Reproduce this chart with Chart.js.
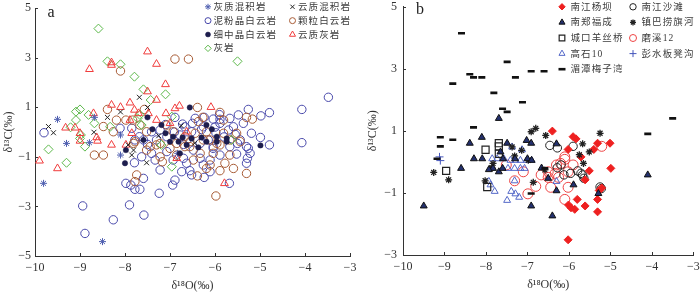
<!DOCTYPE html>
<html><head><meta charset="utf-8">
<script src="https://cdn.jsdelivr.net/npm/chart.js@4.4.1/dist/chart.umd.min.js"></script>
<style>
html,body{margin:0;padding:0;background:#fff;}
#wrap{position:relative;width:700px;height:294px;overflow:hidden;background:#fff;}
#ca{position:absolute;left:0;top:0;}
#cb{position:absolute;left:360px;top:0;}
</style></head><body>
<div id="wrap"><canvas id="ca" width="360" height="294"></canvas><canvas id="cb" width="340" height="294"></canvas></div>
<script>
// ---------- tick labels ----------
const xTicks = [-10, -9, -8, -7, -6, -5, -4, -3];
const yTicksA = [-5, -3, -1, 1, 3, 5];
const yTicksB = [-3, -1, 1, 3, 5];
const xTitle = 'δ¹⁸O(‰)';
const yTitle = 'δ¹³C(‰)';

// ---------- panel a series ([δ18O, δ13C]) ----------
const aLabels = ['灰质混积岩', '云质混积岩', '泥粉晶白云岩', '颗粒白云岩', '细中晶白云岩', '云质灰岩', '灰岩'];
const aCalcMixed = [[-9.50,0.51],[-9.30,-0.46],[-8.79,-0.43],[-8.68,0.59],[-8.10,-0.12],[-9.81,-2.07],[-8.50,-4.42],[-8.10,-0.93],[-6.83,-0.86]];
const aDoloMixed = [[-9.70,0.22],[-9.59,-0.03],[-8.69,-0.01],[-8.39,0.59],[-8.10,0.81],[-7.68,1.40],[-7.50,0.99],[-7.93,-0.52],[-7.85,-0.93],[-7.52,-1.24],[-7.81,-0.73],[-6.75,0.25],[-7.25,-0.15],[-6.45,-0.45]];
const aMicrite = [[-6.89,0.59],[-6.72,0.32],[-6.44,0.55],[-6.24,0.59],[-6.04,0.52],[-5.89,0.51],[-5.67,0.55],[-5.48,0.69],[-5.26,0.91],[-4.98,0.65],[-4.79,0.78],[-4.07,0.91],[-3.48,1.40],[-4.99,-0.22],[-4.79,-0.52],[-4.07,-0.43],[-9.80,-0.03],[-7.41,0.01],[-7.68,-0.19],[-7.78,-0.32],[-7.59,-0.32],[-7.30,-0.32],[-6.78,-0.12],[-6.63,-0.32],[-6.33,-0.46],[-6.15,-0.32],[-5.98,-0.03],[-5.59,0.21],[-5.37,0.35],[-5.70,0.08],[-5.89,0.35],[-6.67,0.21],[-6.52,0.01],[-5.44,-0.32],[-5.30,-0.59],[-8.11,0.15],[-7.85,0.15],[-7.22,0.08],[-7.07,-0.19],[-6.26,0.21],[-5.19,-0.05],[-6.04,-0.59],[-8.94,-2.98],[-8.89,-4.09],[-8.26,-3.54],[-7.90,-2.94],[-7.58,-3.35],[-7.98,-2.07],[-7.87,-2.14],[-7.78,-2.31],[-7.67,-2.31],[-7.59,-1.87],[-7.24,-2.47],[-6.94,-2.14],[-6.89,-1.94],[-5.68,-2.07],[-6.24,-1.83],[-6.52,-1.73],[-6.56,-1.56],[-6.74,-1.60],[-7.22,-1.53],[-7.79,-1.24],[-7.63,-1.00],[-7.33,-1.13],[-5.30,-1.26],[-5.28,-1.06],[-5.22,-0.86],[-5.26,-0.66],[-5.52,-0.89],[-6.93,-1.13],[-6.70,-1.06],[-6.33,-1.06],[-6.11,-1.13],[-5.89,-0.93],[-6.48,-0.73],[-6.04,-0.66],[-5.67,-0.59],[-7.41,-0.86],[-7.07,-0.79],[-6.63,-1.26],[-6.11,-1.60],[-5.50,-0.46],[-6.26,-1.33],[-6.50,0.35],[-6.30,0.10],[-6.00,0.20],[-5.80,-0.20],[-6.90,0.00],[-7.10,0.30],[-5.55,-0.10],[-6.70,-0.50],[-7.50,-0.50],[-5.90,0.70]];
const aGrain = [[-6.89,2.94],[-6.59,2.94],[-8.10,2.46],[-8.39,0.91],[-7.57,0.91],[-6.39,0.99],[-5.89,0.79],[-6.27,0.59],[-5.30,0.59],[-5.17,0.52],[-7.98,0.48],[-8.19,0.48],[-8.48,0.22],[-8.26,0.01],[-7.67,0.28],[-7.52,0.01],[-7.07,0.28],[-6.93,0.01],[-6.67,-0.19],[-6.44,-0.05],[-6.19,0.01],[-5.81,-0.05],[-5.67,-0.32],[-5.52,-0.05],[-6.37,0.42],[-5.81,0.48],[-7.44,-0.59],[-7.22,-0.46],[-6.85,-0.46],[-6.56,-0.59],[-6.26,-0.32],[-5.96,-0.46],[-7.81,-0.46],[-7.83,0.48],[-8.68,-0.93],[-8.48,-0.93],[-7.74,-1.73],[-7.78,-2.00],[-5.98,-2.58],[-5.30,-1.67],[-5.59,-1.47],[-5.89,-1.56],[-5.78,-1.26],[-6.39,-1.77],[-6.11,-1.33],[-6.19,-1.47],[-7.17,-1.20],[-7.52,-0.73],[-7.30,-0.52],[-7.00,-0.66],[-6.67,-0.59],[-6.33,-0.86],[-6.04,-0.86],[-5.67,-0.93],[-6.48,-1.13],[-5.89,-0.52],[-5.44,-0.39],[-6.85,-0.93],[-6.56,-0.39],[-6.11,-0.32],[-7.22,-1.00],[-7.78,-0.39]];
const aFineMed = [[-6.56,0.99],[-7.50,0.59],[-7.19,0.28],[-7.39,0.11],[-7.10,-0.05],[-6.19,0.28],[-4.99,-0.54],[-6.93,-0.19],[-6.72,-0.22],[-6.52,-0.26],[-6.30,-0.22],[-5.96,-0.19],[-5.74,-0.26],[-6.07,0.11],[-8.00,-1.26],[-7.98,-0.73],[-6.78,-0.86],[-7.00,-0.39],[-6.81,-0.39],[-6.19,-0.39],[-5.96,-0.39],[-5.74,-0.39],[-6.37,-0.62],[-7.59,-0.32],[-6.63,-0.52]];
const aDoloLime = [[-8.79,2.53],[-8.30,2.80],[-8.30,2.70],[-7.50,3.24],[-7.30,2.74],[-7.10,1.92],[-7.50,1.63],[-7.30,1.29],[-7.89,1.18],[-8.30,1.09],[-8.10,1.00],[-6.79,1.05],[-6.09,1.00],[-8.70,0.75],[-6.89,0.95],[-7.09,0.75],[-7.79,0.89],[-7.48,0.75],[-7.70,0.75],[-9.11,0.17],[-9.32,0.17],[-8.63,-0.22],[-8.30,-0.52],[-7.98,-0.52],[-9.00,-0.05],[-7.89,0.48],[-7.30,0.48],[-7.00,0.35],[-6.63,0.01],[-7.85,-0.05],[-9.90,-1.16],[-9.50,-1.47],[-5.79,-2.07],[-6.85,-1.06],[-9.00,-0.36],[-8.61,-0.36]];
const aLime = [[-8.59,4.17],[-8.39,2.85],[-8.10,2.73],[-7.79,2.23],[-7.59,1.72],[-7.10,1.52],[-7.43,1.29],[-5.50,2.85],[-9.00,0.91],[-9.09,0.82],[-9.09,0.48],[-9.21,0.19],[-8.98,-0.12],[-9.00,-0.26],[-8.89,-0.59],[-9.70,-0.70],[-9.30,-1.24],[-8.81,0.69],[-8.68,0.35],[-8.33,0.21],[-7.72,0.55],[-7.67,0.69],[-7.63,0.28],[-7.19,-0.52],[-6.96,-1.40],[-6.96,0.62],[-5.63,-0.32]];

// ---------- panel b series ----------
const bLabels = ['南江杨坝', '南江沙滩', '南郑福成', '镇巴捞旗河', '城口羊丝桥', '磨溪12', '高石10', '彭水板凳沟', '湄潭梅子湾'];
const bNanjiangYangba = [[-6.40,0.99],[-5.90,0.81],[-5.83,0.74],[-6.02,0.40],[-5.40,0.40],[-5.31,0.60],[-5.01,0.60],[-5.71,0.16],[-5.51,-0.29],[-5.61,-0.58],[-4.99,-0.21],[-5.21,-0.84],[-5.27,-0.92],[-5.80,-1.21],[-5.31,-1.21],[-6.01,-1.39],[-5.95,-1.48],[-5.86,-1.53],[-5.61,-1.42],[-5.31,-1.61],[-6.02,-2.51]];
const bNanjiangShatan = [[-6.46,0.53],[-6.28,0.45],[-5.90,0.50],[-6.28,-0.19],[-6.19,-0.10],[-6.12,-0.42],[-5.96,-0.37],[-5.79,-0.29],[-5.71,-0.37],[-5.67,-0.42],[-5.64,-0.53],[-5.25,-0.81],[-5.22,-0.86]];
const bNanzhengFucheng = [[-7.69,1.40],[-8.10,0.79],[-8.39,0.60],[-7.49,0.60],[-7.02,0.69],[-6.91,0.60],[-6.30,0.58],[-8.29,0.10],[-8.09,0.10],[-7.59,0.10],[-7.65,0.32],[-8.60,-0.21],[-7.83,-0.21],[-7.69,-0.32],[-7.93,-0.25],[-7.60,-0.21],[-9.50,-1.42],[-6.91,-1.42],[-6.40,-1.74],[-6.30,-0.93],[-6.50,-0.53],[-5.89,-0.74],[-5.29,-1.02],[-4.10,-0.42],[-7.00,0.10],[-6.90,0.05],[-7.30,0.10],[-6.66,-0.20]];
const bZhenbaLaoqihe = [[-6.91,0.97],[-6.80,1.08],[-6.56,0.85],[-5.25,0.92],[-5.67,0.58],[-7.37,0.48],[-7.14,0.37],[-7.31,0.19],[-6.98,0.05],[-7.83,-0.05],[-7.86,-0.19],[-5.75,0.23],[-5.51,0.32],[-5.65,-0.05],[-9.26,-0.34],[-8.90,-0.58],[-8.02,-0.61],[-6.86,-0.66],[-6.58,-0.26]];
const bChengkou = [[-7.69,0.60],[-7.69,0.50],[-8.01,0.39],[-7.69,0.26],[-8.96,-0.29],[-7.97,-0.81]];
const bMoxi12 = [[-5.21,0.50],[-6.10,0.16],[-6.10,0.08],[-6.20,-0.05],[-6.30,-0.10],[-5.90,-0.10],[-6.02,-0.32],[-6.33,-0.37],[-6.50,-0.32],[-6.67,-0.42],[-6.50,-0.50],[-6.25,-0.50],[-7.10,-0.32],[-6.80,-0.79],[-6.99,-1.03],[-7.31,-0.61],[-7.51,-0.10],[-6.44,-0.82],[-6.02,-0.82],[-6.10,-1.21]];
const bGaoshi10 = [[-7.85,0.10],[-7.73,0.10],[-7.57,0.10],[-7.41,0.05],[-7.29,0.05],[-7.17,0.05],[-7.02,0.05],[-6.90,0.05],[-7.47,-0.21],[-7.31,-0.21],[-7.17,-0.21],[-7.07,-0.21],[-7.31,-0.61],[-7.93,-0.63],[-7.89,-0.74],[-7.79,-0.95],[-7.39,-0.95],[-7.29,-1.03],[-7.20,-1.14],[-7.49,-1.24],[-6.30,-0.63],[-7.13,0.39],[-7.37,0.48]];
const bPengshui = [[-9.12,0.16],[-9.10,0.04]];
const bMeitan = [[-8.59,4.14],[-8.80,2.52],[-8.39,2.82],[-8.30,2.72],[-8.10,2.72],[-7.49,3.22],[-7.29,2.72],[-6.91,2.92],[-6.60,2.92],[-7.81,2.22],[-7.12,1.92],[-7.60,1.71],[-7.49,1.61],[-8.30,1.11],[-9.10,0.79],[-8.80,0.71],[-9.10,0.50],[-3.50,1.40],[-4.10,0.90],[-9.18,0.10],[-6.58,-0.21],[-6.91,-1.02]];

// ---------- helpers ----------
const SERIF = "'Liberation Serif','DejaVu Serif','Times New Roman',serif";
const fmt = v => (v < 0 ? '\u2212' + Math.abs(v) : String(v));

function ds(label, pts, style, color, extra) {
  return Object.assign({
    label: label,
    data: pts.map(p => ({ x: p[0], y: p[1] })),
    pointStyle: style,
    pointBackgroundColor: 'rgba(0,0,0,0)',
    pointBorderColor: color,
    pointBorderWidth: 1,
    pointRadius: 4,
    pointHoverRadius: 4,
    legendRadius: 3,
    showLine: false
  }, extra || {});
}

function scales(yMin, yMax, yTicks, yWidth, yTitlePad, yTickPad, xHeight) {
  return {
    x: {
      type: 'linear', min: -10, max: -3,
      afterBuildTicks: s => { s.ticks = xTicks.map(v => ({ value: v })); },
      afterFit: s => { s.height = xHeight; s.paddingLeft = 0; s.paddingRight = 0; },
      grid: { display: false, drawTicks: false },
      border: { display: true, color: '#333', width: 1 },
      ticks: { padding: 5, color: '#333', font: { family: SERIF, size: 12 }, callback: v => fmt(v), maxRotation: 0, autoSkip: false },
      title: { display: true, text: xTitle, color: '#333', font: { family: SERIF, size: 12 }, padding: { top: 0, bottom: 0.5 } }
    },
    y: {
      type: 'linear', min: yMin, max: yMax,
      afterBuildTicks: s => { s.ticks = yTicks.map(v => ({ value: v })); },
      afterFit: s => { s.width = yWidth; s.paddingTop = 0; s.paddingBottom = 0; },
      grid: { display: false, drawTicks: false },
      border: { display: true, color: '#333', width: 1 },
      ticks: { padding: yTickPad, color: '#333', font: { family: SERIF, size: 12 }, callback: v => fmt(v), autoSkip: false },
      title: { display: true, text: yTitle, color: '#333', font: { family: SERIF, size: 12 }, padding: { top: yTitlePad, bottom: 0 } }
    }
  };
}

const gridLegend = {
  id: 'gridLegend',
  afterDraw(chart, args, o) {
    const ctx = chart.ctx;
    ctx.save();
    ctx.textBaseline = 'middle';
    ctx.textAlign = 'left';
    chart.data.datasets.forEach((d, i) => {
      const sx = o.x0 + (i % 2) * o.colDx;
      const sy = o.y0 + Math.floor(i / 2) * o.rowDy;
      ctx.save();
      ctx.fillStyle = d.pointBackgroundColor;
      ctx.strokeStyle = d.pointBorderColor;
      ctx.lineWidth = d.pointBorderWidth;
      Chart.helpers.drawPoint(ctx, { pointStyle: d.pointStyle, radius: d.legendRadius, borderWidth: d.pointBorderWidth, rotation: 0 }, sx, sy);
      ctx.restore();
      ctx.font = o.font;
      if ('letterSpacing' in ctx) ctx.letterSpacing = o.spacing + 'px';
      ctx.fillStyle = '#3a3a3a';
      ctx.fillText(d.label, sx + o.textDx, sy + 0.5);
      if ('letterSpacing' in ctx) ctx.letterSpacing = '0px';
    });
    ctx.restore();
  }
};

const inTicks = {
  id: 'inTicks',
  afterDraw(chart, args, o) {
    const { ctx, chartArea: a, scales: { x, y } } = chart;
    ctx.save();
    ctx.strokeStyle = '#333';
    ctx.lineWidth = 1;
    ctx.beginPath();
    x.ticks.forEach(t => { const p = Math.round(x.getPixelForValue(t.value)) + 0.5; ctx.moveTo(p, a.bottom); ctx.lineTo(p, a.bottom - 3); });
    y.ticks.forEach(t => { const p = Math.round(y.getPixelForValue(t.value)) + 0.5; ctx.moveTo(a.left, p); ctx.lineTo(a.left + 3, p); });
    ctx.stroke();
    ctx.fillStyle = '#222';
    ctx.font = '16px ' + SERIF;
    ctx.textAlign = 'center';
    ctx.textBaseline = 'middle';
    ctx.fillText(o.letter, o.lx, o.ly);
    ctx.restore();
  }
};

// ---------- chart a ----------
new Chart(document.getElementById('ca'), {
  type: 'scatter',
  data: {
    datasets: [
      ds(aLabels[0], aCalcMixed, 'star', '#4f5fb0', { pointRadius: 3.5, order: 2 }),
      ds(aLabels[1], aDoloMixed, 'crossRot', '#222222', { pointRadius: 3.5, order: 2 }),
      ds(aLabels[2], aMicrite, 'circle', '#4848aa', { pointRadius: 4.2, order: 5 }),
      ds(aLabels[3], aGrain, 'circle', '#a75b35', { pointRadius: 4.2, order: 4 }),
      ds(aLabels[4], aFineMed, 'circle', '#1d1d4d', { pointRadius: 2.7, pointBorderWidth: 0.5, legendRadius: 2.5, pointBackgroundColor: '#1d1d4d', order: 1 }),
      ds(aLabels[5], aDoloLime, 'triangle', '#f03c3c', { pointRadius: 4.5, legendRadius: 3.5, order: 3 }),
      ds(aLabels[6], aLime, 'rectRot', '#5cb84a', { pointRadius: 4.5, legendRadius: 3.2, order: 3 })
    ]
  },
  options: {
    responsive: false, animation: false, devicePixelRatio: 1,
    layout: { padding: { left: 0, top: 8, right: 10, bottom: 0 } },
    plugins: {
      legend: { display: false }, tooltip: { enabled: false },
      gridLegend: { x0: 208, colDx: 84.5, y0: 6.8, rowDy: 13.85, textDx: 5.5, font: "9.5px 'Liberation Serif','Noto Sans CJK SC'", spacing: 1.1 },
      inTicks: { letter: 'a', lx: 51, ly: 13 }
    },
    scales: scales(-5, 5, yTicksA, 35, 1.5, 4, 38)
  },
  plugins: [inTicks, gridLegend]
});

// ---------- chart b ----------
new Chart(document.getElementById('cb'), {
  type: 'scatter',
  data: {
    datasets: [
      ds(bLabels[0], bNanjiangYangba, 'rectRot', '#ee2020', { pointRadius: 4, pointBackgroundColor: '#ee2020', legendRadius: 3.2, order: 2 }),
      ds(bLabels[1], bNanjiangShatan, 'circle', '#222222', { pointRadius: 4.2, legendRadius: 3.2, order: 3 }),
      ds(bLabels[2], bNanzhengFucheng, 'triangle', '#111111', { pointRadius: 4, pointBackgroundColor: '#23306e', legendRadius: 3.5, order: 1 }),
      ds(bLabels[3], bZhenbaLaoqihe, 'star', '#222222', { pointRadius: 3.5, pointBorderWidth: 1.3, legendRadius: 3, order: 1 }),
      ds(bLabels[4], bChengkou, 'rect', '#222222', { pointRadius: 5, pointBorderWidth: 1.2, legendRadius: 4, order: 1 }),
      ds(bLabels[5], bMoxi12, 'circle', '#ee4444', { pointRadius: 5, legendRadius: 3.5, order: 4 }),
      ds(bLabels[6], bGaoshi10, 'triangle', '#5468c8', { pointRadius: 4, legendRadius: 3.5, order: 3 }),
      ds(bLabels[7], bPengshui, 'cross', '#4455bb', { pointRadius: 4, legendRadius: 3.5, order: 1 }),
      ds(bLabels[8], bMeitan, 'line', '#111111', { pointRadius: 3.5, pointBorderWidth: 2.6, legendRadius: 3.5, order: 0 })
    ]
  },
  options: {
    responsive: false, animation: false, devicePixelRatio: 1,
    layout: { padding: { left: 0, top: 2, right: 3, bottom: 1 } },
    plugins: {
      legend: { display: false }, tooltip: { enabled: false },
      gridLegend: { x0: 202, colDx: 71, y0: 6.8, rowDy: 15.6, textDx: 8.5, font: "9.5px 'Liberation Serif','Noto Sans CJK SC'", spacing: 1.1 },
      inTicks: { letter: 'b', lx: 60, ly: 10 }
    },
    scales: scales(-3, 5, yTicksB, 43, 5.5, 6, 38)
  },
  plugins: [inTicks, gridLegend]
});
</script>
</body></html>
